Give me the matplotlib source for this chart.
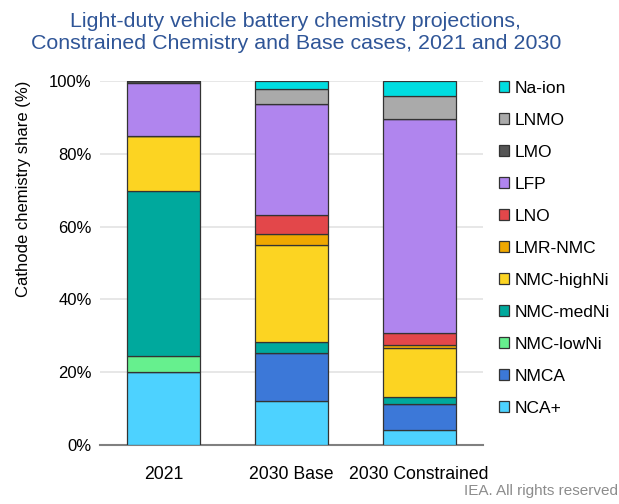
import matplotlib.pyplot as plt
import numpy as np

plt.rcParams['font.family'] = ['Liberation Sans', 'DejaVu Sans']

cases = ["2021", "2030 Base", "2030 Constrained"]
chemistries = ["NCA+", "NMCA", "NMC-lowNi", "NMC-medNi", "NMC-highNi",
               "LMR-NMC", "LNO", "LFP", "LMO", "LNMO", "Na-ion"]
colors = ["#4DD2FF", "#3C78D8", "#66F08E", "#00A99D", "#FCD422",
          "#F0A800", "#E3474A", "#B085EE", "#555555", "#AAAAAA", "#00DDE0"]

# shares in % per case (2021, 2030 Base, 2030 Constrained)
nca_plus = [20.0, 12.2, 4.1]
nmca = [0.0, 13.2, 7.2]
nmc_lowni = [4.5, 0.0, 0.0]
nmc_medni = [45.4, 3.0, 2.0]
nmc_highni = [15.1, 26.5, 13.3]
lmr_nmc = [0.0, 3.2, 0.9]
lno = [0.0, 5.1, 3.4]
lfp = [14.6, 30.6, 58.7]
lmo = [0.4, 0.0, 0.0]
lnmo = [0.0, 4.0, 6.2]
na_ion = [0.0, 2.2, 4.2]

series = [nca_plus, nmca, nmc_lowni, nmc_medni, nmc_highni,
          lmr_nmc, lno, lfp, lmo, lnmo, na_ion]

fig = plt.figure(figsize=(6.19, 5.04), dpi=100)
ax = fig.add_axes([0.1616, 0.117, 0.6187, 0.722])

x = np.arange(len(cases))
bottom = np.zeros(len(cases))
handles = []
for name, vals, col in zip(chemistries, series, colors):
    vals = np.array(vals)
    b = ax.bar(x, vals, bottom=bottom, width=0.57, color=col,
               edgecolor="#333333", linewidth=0.9, label=name, zorder=3)
    handles.append(b)
    bottom += vals

ax.set_xlim(-0.5, 2.5)
ax.set_ylim(0, 100)
ax.set_yticks(np.arange(0, 101, 20))
ax.set_yticklabels([f"{v}%" for v in range(0, 101, 20)], fontsize=12)
ax.set_xticks(x)
ax.set_xticklabels(cases, fontsize=12.7)
ax.tick_params(axis="y", length=0, pad=6)
ax.tick_params(axis="x", length=0, pad=15)
ax.grid(axis="y", color="#E3E3E3", linewidth=1.2, zorder=0)
for s in ["top", "right", "left"]:
    ax.spines[s].set_visible(False)
ax.spines["bottom"].set_color("#808080")
ax.spines["bottom"].set_linewidth(1.5)
ax.set_ylabel("Cathode chemistry share (%)", fontsize=12)
ax.yaxis.set_label_coords(-0.18, 0.703)

ax.legend(handles[::-1], chemistries[::-1], loc="upper left",
          bbox_to_anchor=(1.01, 1.035), frameon=False, fontsize=12.5,
          handlelength=0.6, handleheight=0.6, handletextpad=0.3,
          labelspacing=0.98, borderaxespad=0.3)

fig.text(0.478, 0.976, "Light-duty vehicle battery chemistry projections,\n"
         "Constrained Chemistry and Base cases, 2021 and 2030",
         ha="center", va="top", fontsize=15.4, color="#2F5597", linespacing=1.18)
fig.text(0.998, 0.012, "IEA. All rights reserved", ha="right", va="bottom",
         fontsize=11, color="#8C8C8C")

fig.savefig("out.png", dpi=100)
